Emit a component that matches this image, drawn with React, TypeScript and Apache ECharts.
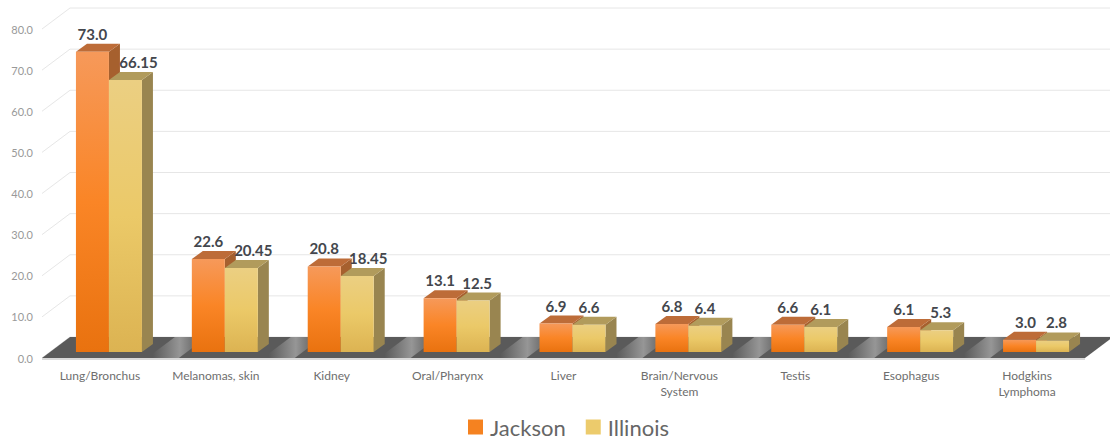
import React, { useEffect, useRef } from "react";
import * as echarts from "echarts";

const categories = [
  "Lung/Bronchus",
  "Melanomas, skin",
  "Kidney",
  "Oral/Pharynx",
  "Liver",
  "Brain/Nervous\nSystem",
  "Testis",
  "Esophagus",
  "Hodgkins\nLymphoma",
];
const jackson = [73.0, 22.6, 20.8, 13.1, 6.9, 6.8, 6.6, 6.1, 3.0];
const illinois = [66.15, 20.45, 18.45, 12.5, 6.6, 6.4, 6.1, 5.3, 2.8];
const yTicks = [0, 10, 20, 30, 40, 50, 60, 70, 80];
// Horizontal nudge of each value label, keeps neighbouring labels apart
const illinoisLabelShift = [13, 12, 11, 4, 0, 0, 0, 4, 4];
const jacksonLabelShift = [0, 0, 0, 0, 0, 0, 0, 0, 6];

const FONT = "Lato";
const GRID = { left: 42, right: 25, top: 29, bottom: 82 };
const GRID_RIGHT_X = 1110 - GRID.right;
const WALL = { dx: 28, dy: -21 };
const PLANE = { dx: 9, dy: -6 };
const DEPTH = { dx: 11, dy: -8 };
const BAR_W = 33;
const BAND_W = (GRID_RIGHT_X - GRID.left) / categories.length;

const vGrad = (stops: [number, string][]) =>
  new echarts.graphic.LinearGradient(
    0,
    0,
    0,
    1,
    stops.map(([offset, color]) => ({ offset, color }))
  );

const JACKSON_STYLE = {
  front: [
    [0, "#f6995a"],
    [0.5, "#fa8526"],
    [1, "#e9720f"],
  ] as [number, string][],
  top: "#bd6c38",
  side: "#a6602e",
};
const ILLINOIS_STYLE = {
  front: [
    [0, "#ebcf82"],
    [0.5, "#ebc968"],
    [1, "#dcb352"],
  ] as [number, string][],
  top: "#b19b5c",
  side: "#998550",
};

// One back-wall gridline: up the left side wall, then along the back
function wallItem(_p: any, api: any) {
  const [, y] = api.coord([0, api.value(1)]);
  return {
    type: "polyline",
    silent: true,
    shape: {
      points: [
        [GRID.left, y],
        [GRID.left + WALL.dx, y + WALL.dy],
        [GRID_RIGHT_X + WALL.dx, y + WALL.dy],
      ],
    },
    style: { stroke: "#e6e6e6", lineWidth: 1, fill: "none" },
  };
}

// Dark floor with slanted sheen streaks that show in the gaps between bar groups
function floorItem(_p: any, api: any) {
  const [, y] = api.coord([0, 0]);
  const l = GRID.left;
  const r = GRID_RIGHT_X;
  const streaks = categories.slice(0, -1).map((_, i) => {
    const c = l + BAND_W * (i + 1) + 5;
    const half = 16;
    return {
      type: "polygon",
      shape: {
        points: [
          [c - half, y],
          [c - half + WALL.dx, y + WALL.dy],
          [c + half + WALL.dx, y + WALL.dy],
          [c + half, y],
        ],
      },
      style: {
        fill: new echarts.graphic.LinearGradient(0, 0, 1, 0, [
          { offset: 0.1, color: "rgba(190,190,190,0)" },
          { offset: 0.55, color: "rgba(190,190,190,0.6)" },
          { offset: 0.9, color: "rgba(190,190,190,0)" },
        ]),
      },
    };
  });
  return {
    type: "group",
    silent: true,
    children: [
      {
        type: "polygon",
        shape: {
          points: [
            [l, y],
            [l + WALL.dx, y + WALL.dy],
            [r + WALL.dx, y + WALL.dy],
            [r, y],
          ],
        },
        style: { fill: "#5a5a5a" },
      },
      ...streaks,
      {
        type: "line",
        shape: { x1: l, y1: y + 1, x2: r, y2: y + 1 },
        style: { stroke: "#d9d9d9", lineWidth: 2 },
      },
    ],
  };
}

function barItem(
  look: typeof JACKSON_STYLE,
  slot: number,
  text: (i: number) => string,
  shift: number[]
) {
  return (_p: any, api: any) => {
    const i = api.value(0);
    const [cx, yBase] = api.coord([i, 0]);
    const [, yTop] = api.coord([i, api.value(1)]);
    const x = cx + PLANE.dx + (slot - 1) * BAR_W;
    const top = yTop + PLANE.dy;
    const base = yBase + PLANE.dy;
    const { dx, dy } = DEPTH;
    return {
      type: "group",
      children: [
        {
          type: "polygon",
          shape: {
            points: [
              [x + BAR_W, top],
              [x + BAR_W + dx, top + dy],
              [x + BAR_W + dx, base + dy],
              [x + BAR_W, base],
            ],
          },
          style: { fill: look.side },
        },
        {
          type: "polygon",
          shape: {
            points: [
              [x, top],
              [x + dx, top + dy],
              [x + BAR_W + dx, top + dy],
              [x + BAR_W, top],
            ],
          },
          style: { fill: look.top },
        },
        {
          type: "rect",
          shape: { x, y: top, width: BAR_W, height: base - top },
          style: { fill: vGrad(look.front) },
        },
        {
          type: "text",
          x: x + BAR_W / 2 + shift[i],
          y: top - 18,
          style: {
            text: text(i),
            fill: "#44474d",
            font: `700 15px ${FONT}`,
            align: "center",
            verticalAlign: "middle",
          },
        },
      ],
    };
  };
}

export default function App() {
  const ref = useRef<HTMLDivElement>(null);

  useEffect(() => {
    const chart = echarts.init(ref.current!, undefined, { renderer: "svg" });
    chart.setOption({
      animation: false,
      backgroundColor: "#ffffff",
      grid: GRID,
      legend: {
        data: ["Jackson", "Illinois"],
        left: 463,
        top: 410,
        itemWidth: 15,
        itemHeight: 15,
        itemGap: 20,
        icon: "rect",
        textStyle: {
          fontFamily: FONT,
          fontSize: 22,
          lineHeight: 24,
          color: "#666666",
          padding: [0, 0, 0, 2],
        },
      },
      xAxis: {
        type: "category",
        data: categories,
        axisLine: { show: false },
        axisTick: { show: false },
        splitLine: { show: false },
        axisLabel: {
          fontFamily: FONT,
          fontSize: 12,
          color: "#6e6e6e",
          lineHeight: 16,
          margin: 9,
          interval: 0,
        },
      },
      yAxis: {
        type: "value",
        min: 0,
        max: 80,
        interval: 10,
        axisLine: { show: false },
        axisTick: { show: false },
        splitLine: { show: false },
        axisLabel: {
          fontFamily: FONT,
          fontSize: 11,
          color: "#999999",
          margin: 9,
          formatter: (v: number) => v.toFixed(1),
        },
      },
      series: [
        {
          name: "wall",
          type: "custom",
          coordinateSystem: "cartesian2d",
          clip: false,
          silent: true,
          encode: { x: 0, y: 1 },
          data: yTicks.map((t) => [0, t]),
          renderItem: wallItem,
        },
        {
          name: "floor",
          type: "custom",
          coordinateSystem: "cartesian2d",
          clip: false,
          silent: true,
          encode: { x: 0, y: 1 },
          data: [[0, 0]],
          renderItem: floorItem,
        },
        {
          name: "Jackson",
          type: "custom",
          coordinateSystem: "cartesian2d",
          clip: false,
          itemStyle: { color: "#f58220" },
          encode: { x: 0, y: 1 },
          data: jackson.map((v, i) => [i, v]),
          renderItem: barItem(JACKSON_STYLE, 0, (i) => jackson[i].toFixed(1), jacksonLabelShift),
        },
        {
          name: "Illinois",
          type: "custom",
          coordinateSystem: "cartesian2d",
          clip: false,
          itemStyle: { color: "#eccb6c" },
          encode: { x: 0, y: 1 },
          data: illinois.map((v, i) => [i, v]),
          renderItem: barItem(ILLINOIS_STYLE, 1, (i) => String(illinois[i]), illinoisLabelShift),
        },
      ],
    });
    return () => chart.dispose();
  }, []);

  return (
    <div
      ref={ref}
      style={{ position: "absolute", left: 0, top: 0, width: 1110, height: 440 }}
    />
  );
}
